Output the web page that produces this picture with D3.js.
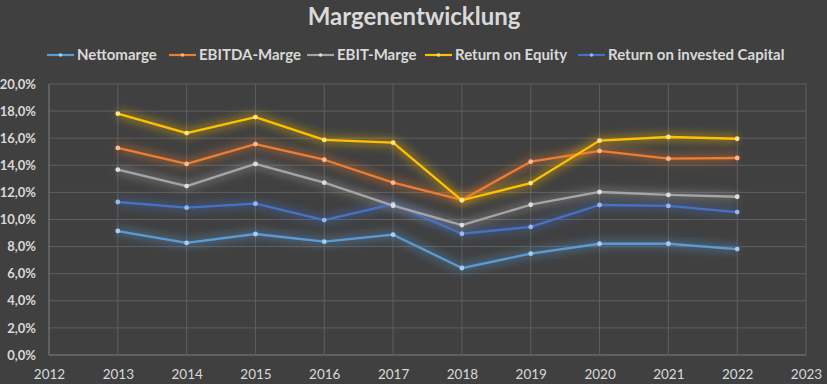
<!DOCTYPE html>
<html>
<head>
<meta charset="utf-8">
<script src="https://cdn.jsdelivr.net/npm/d3@7"></script>
<style>
  body { margin: 0; background: #404040; }
  svg { display: block; font-family: Lato, "Open Sans", sans-serif; }
</style>
</head>
<body>
<svg width="827" height="384"></svg>
<script>
var years = [2013, 2014, 2015, 2016, 2017, 2018, 2019, 2020, 2021, 2022];
var nettomarge = [9.15, 8.27, 8.93, 8.36, 8.88, 6.42, 7.48, 8.21, 8.21, 7.82];
var ebitdaMarge = [15.28, 14.1, 15.57, 14.41, 12.72, 11.44, 14.27, 15.06, 14.49, 14.54];
var ebitMarge = [13.68, 12.47, 14.1, 12.72, 11.02, 9.59, 11.09, 12.03, 11.81, 11.68];
var roe = [17.81, 16.38, 17.56, 15.87, 15.67, 11.42, 12.69, 15.82, 16.09, 15.96];
var roic = [11.29, 10.87, 11.17, 9.96, 11.14, 8.95, 9.45, 11.07, 11.0, 10.55];
var seriesNames = ["Nettomarge", "EBITDA-Marge", "EBIT-Marge", "Return on Equity", "Return on invested Capital"];
var xTicks = d3.range(2012, 2024);
var yTicks = d3.range(0, 21, 2);

var colors = ["#5b9bd5", "#ed7d31", "#a5a5a5", "#ffc000", "#4472c4"];
var dotColors = ["#a9cdef", "#f7b995", "#dedede", "#ffe48a", "#9bb6ea"];
var allSeries = [nettomarge, ebitdaMarge, ebitMarge, roe, roic];

var svg = d3.select("svg");
var plotLeft = 49, plotRight = 806, plotTop = 84, plotBottom = 355;

var x = d3.scaleLinear().domain([2012, 2023]).range([plotLeft, plotRight]);
var y = d3.scaleLinear().domain([0, 20]).range([plotBottom, plotTop]);

var fmt = function (d) { return d.toFixed(1).replace(".", ",") + "%"; };

// glow filter
var defs = svg.append("defs");
var f = defs.append("filter").attr("id", "glow")
  .attr("x", "-20%").attr("y", "-50%").attr("width", "140%").attr("height", "200%");
f.append("feGaussianBlur").attr("stdDeviation", 4);

// title
svg.append("text")
  .attr("x", 414).attr("y", 25)
  .attr("text-anchor", "middle")
  .attr("fill", "#d9d9d9")
  .attr("font-size", 24).attr("font-weight", "bold")
  .text("Margenentwicklung");

// legend
var legendX = [47, 169, 307, 425, 578];
var lg = svg.append("g");
seriesNames.forEach(function (name, i) {
  var g = lg.append("g").attr("transform", "translate(" + legendX[i] + ",55)");
  g.append("line").attr("x1", 0).attr("x2", 27).attr("y1", 0).attr("y2", 0)
    .attr("stroke", colors[i]).attr("stroke-width", 2.2);
  g.append("circle").attr("cx", 13.5).attr("cy", 0).attr("r", 1.8).attr("fill", dotColors[i]);
  g.append("text").attr("x", 30).attr("y", 5)
    .attr("fill", "#d9d9d9").attr("font-size", 15).attr("font-weight", "bold")
    .text(name);
});

// grid
var grid = svg.append("g");
grid.selectAll(".hg").data(yTicks).enter().append("line")
  .attr("x1", plotLeft).attr("x2", plotRight)
  .attr("y1", function (d) { return y(d); }).attr("y2", function (d) { return y(d); })
  .attr("stroke", function (d) { return d === 0 ? "#7f7f7f" : "#5e5e5e"; })
  .attr("stroke-width", 1);
grid.selectAll(".vg").data(xTicks).enter().append("line")
  .attr("y1", plotTop).attr("y2", plotBottom)
  .attr("x1", function (d) { return x(d); }).attr("x2", function (d) { return x(d); })
  .attr("stroke", function (d) { return d === 2012 ? "#7f7f7f" : "#5e5e5e"; })
  .attr("stroke-width", 1);

// axes (labels only)
var yAxis = svg.append("g").attr("transform", "translate(" + (plotLeft - 10) + ",0)")
  .call(d3.axisLeft(y).tickValues(yTicks).tickFormat(fmt).tickSize(0));
yAxis.select(".domain").remove();
yAxis.selectAll("text").attr("fill", "#d9d9d9").attr("font-size", 13).attr("font-weight", "bold")
  .attr("font-family", "Lato, sans-serif");

var xAxis = svg.append("g").attr("transform", "translate(0," + (plotBottom + 11) + ")")
  .call(d3.axisBottom(x).tickValues(xTicks).tickFormat(d3.format("d")).tickSize(0));
xAxis.select(".domain").remove();
xAxis.selectAll("text").attr("fill", "#d9d9d9").attr("font-size", 13.5)
  .attr("font-family", "Lato, sans-serif");

// lines
var line = d3.line()
  .x(function (d, i) { return x(years[i]); })
  .y(function (d) { return y(d); });

var order = [0, 4, 2, 1, 3];
order.forEach(function (i) {
  svg.append("path").datum(allSeries[i])
    .attr("d", line).attr("fill", "none")
    .attr("stroke", colors[i]).attr("stroke-width", 8).attr("stroke-opacity", 0.4)
    .attr("stroke-linejoin", "round")
    .attr("filter", "url(#glow)");
});
order.forEach(function (i) {
  var vals = allSeries[i];
  svg.append("path").datum(vals)
    .attr("d", line).attr("fill", "none")
    .attr("stroke", colors[i]).attr("stroke-width", 2.3)
    .attr("stroke-linejoin", "round");
  svg.selectAll(null).data(vals).enter().append("circle")
    .attr("cx", function (d, j) { return x(years[j]); })
    .attr("cy", function (d) { return y(d); })
    .attr("r", 2.4)
    .attr("fill", dotColors[i]);
});
</script>
</body>
</html>
